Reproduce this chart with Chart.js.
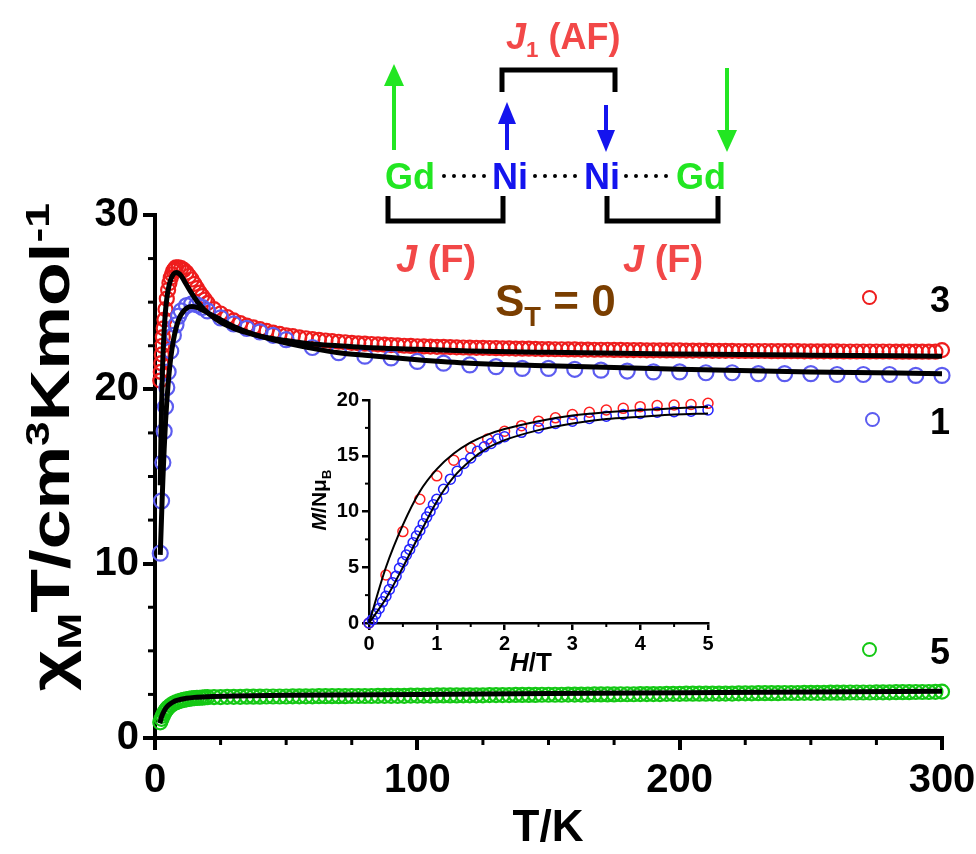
<!DOCTYPE html>
<html>
<head>
<meta charset="utf-8">
<script src="https://cdn.jsdelivr.net/npm/chart.js@4.4.1/dist/chart.umd.min.js"></script>
<style>
  html, body { margin: 0; padding: 0; background: #fff; }
  #wrap { position: relative; width: 976px; height: 854px; overflow: hidden; font-family: 'Liberation Sans', Arial, sans-serif; font-weight: bold; }
  #main { position: absolute; left: 0; top: 0; }
  #inset { position: absolute; left: 300px; top: 385px; }
  .t { position: absolute; white-space: nowrap; line-height: 1; }
  .red { color: #f24848; }
  .grn { color: #22e622; }
  .blu { color: #1414ee; }
  .brn { color: #7a3e00; }
  .leg { position: absolute; width: 11px; height: 11px; border-radius: 50%; border: 2px solid; }
  sub, sup { font-size: 62%; line-height: 0; }
</style>
</head>
<body>
<div id="wrap">
  <canvas id="main" width="976" height="854"></canvas>
  <canvas id="inset" width="420" height="300"></canvas>

  <svg width="976" height="854" style="position:absolute;left:0;top:0;pointer-events:none">
    <path d="M502,92 V70 H615 V92" fill="none" stroke="#000" stroke-width="5"/>
    <path d="M388,196 V221 H503 V196" fill="none" stroke="#000" stroke-width="5"/>
    <path d="M607,196 V221 H718 V196" fill="none" stroke="#000" stroke-width="5"/>
    <line x1="394" y1="150" x2="394" y2="82" stroke="#22e622" stroke-width="4"/>
    <polygon points="384,86 404,86 394,64" fill="#22e622"/>
    <line x1="727" y1="68" x2="727" y2="134" stroke="#22e622" stroke-width="4"/>
    <polygon points="717,130 737,130 727,152" fill="#22e622"/>
    <line x1="507" y1="150" x2="507" y2="120" stroke="#1414ee" stroke-width="4"/>
    <polygon points="498,124 516,124 507,102" fill="#1414ee"/>
    <line x1="606" y1="105" x2="606" y2="134" stroke="#1414ee" stroke-width="4"/>
    <polygon points="597,130 615,130 606,152" fill="#1414ee"/>
    <line x1="444" y1="176" x2="490" y2="176" stroke="#000" stroke-width="4" stroke-dasharray="0 10" stroke-linecap="round"/>
    <line x1="535" y1="176" x2="581" y2="176" stroke="#000" stroke-width="4" stroke-dasharray="0 10" stroke-linecap="round"/>
    <line x1="626" y1="176" x2="672" y2="176" stroke="#000" stroke-width="4" stroke-dasharray="0 10" stroke-linecap="round"/>
  </svg>

  <div class="t red" style="left:506px;top:19px;font-size:36px"><i>J</i><sub>1</sub> (AF)</div>
  <div class="t grn" style="left:385px;top:159px;font-size:36px">Gd</div>
  <div class="t blu" style="left:492px;top:159px;font-size:36px">Ni</div>
  <div class="t blu" style="left:584px;top:159px;font-size:36px">Ni</div>
  <div class="t grn" style="left:676px;top:159px;font-size:36px">Gd</div>
  <div class="t red" style="left:396px;top:240px;font-size:38px"><i>J</i> (F)</div>
  <div class="t red" style="left:623px;top:240px;font-size:38px"><i>J</i> (F)</div>
  <div class="t brn" style="left:495px;top:279px;font-size:44px">S<sub>T</sub> = 0</div>

  <div class="leg" style="left:862px;top:290px;border-color:#ee1c1c"></div>
  <div class="t" style="left:930px;top:282px;font-size:36px">3</div>
  <div class="leg" style="left:865px;top:412px;border-color:#5c5cf0"></div>
  <div class="t" style="left:930px;top:404px;font-size:36px">1</div>
  <div class="leg" style="left:862px;top:642px;border-color:#14c814"></div>
  <div class="t" style="left:930px;top:634px;font-size:36px">5</div>

  <div class="t" style="left:50px;top:447px;font-size:55px;transform:translate(-50%,-50%) rotate(-90deg) scale(1.3,1)">χ<sub>M</sub>T/cm<sup>3</sup>Kmol<sup>-1</sup></div>
  <div class="t" style="left:548px;top:826px;font-size:44px;transform:translate(-50%,-50%)">T/K</div>
  <div class="t" style="left:318px;top:500px;font-size:21px;transform:translate(-50%,-50%) rotate(-90deg)"><i>M</i>/Nμ<sub>B</sub></div>
  <div class="t" style="left:531px;top:662px;font-size:26px;transform:translate(-50%,-50%)"><i>H</i>/T</div>
</div>

<script>
// ---------- main plot data: chi_M T (cm3 K mol-1) vs T (K) ----------
const denseT = [
  20,22.5,25,27.5,30,32.5,35,37.5,40,42.5,
  45,47.5,50,52.5,55,57.5,60,62.5,65,67.5,
  70,72.5,75,77.5,80,82.5,85,87.5,90,92.5,
  95,97.5,100,102.5,105,107.5,110,112.5,115,117.5,
  120,122.5,125,127.5,130,132.5,135,137.5,140,142.5,
  145,147.5,150,152.5,155,157.5,160,162.5,165,167.5,
  170,172.5,175,177.5,180,182.5,185,187.5,190,192.5,
  195,197.5,200,202.5,205,207.5,210,212.5,215,217.5,
  220,222.5,225,227.5,230,232.5,235,237.5,240,242.5,
  245,247.5,250,252.5,255,257.5,260,262.5,265,267.5,
  270,272.5,275,277.5,280,282.5,285,287.5,290,292.5,
  295,297.5,300
];

const redLowT = [2,2.2,2.4,2.6,2.8,3,3.3,3.6,4,4.5,5,5.5,6,6.5,7,7.5,8,9,10,11,12,13,14,15,16,17,18,19];
const redLowChi = [20.5,21.0,21.5,22.0,22.5,23.0,23.5,24.0,24.6,25.2,25.7,26.1,26.4,26.6,26.8,26.9,27.0,27.0,26.95,26.85,26.7,26.5,26.3,26.05,25.8,25.55,25.35,25.15];
const redHighChi = [
  24.95,24.6,24.35,24.15,23.95,23.8,23.65,23.55,23.45,23.35,
  23.25,23.18,23.1,23.05,22.98,22.93,22.88,22.84,22.8,22.76,
  22.73,22.7,22.67,22.64,22.62,22.6,22.58,22.56,22.54,22.52,
  22.5,22.49,22.47,22.46,22.45,22.44,22.43,22.42,22.41,22.4,
  22.39,22.38,22.38,22.37,22.36,22.35,22.35,22.34,22.33,22.33,
  22.32,22.31,22.31,22.3,22.3,22.29,22.29,22.28,22.28,22.27,
  22.27,22.27,22.26,22.26,22.25,22.25,22.25,22.24,22.24,22.24,
  22.23,22.23,22.23,22.22,22.22,22.22,22.22,22.21,22.21,22.21,
  22.21,22.2,22.2,22.2,22.2,22.2,22.19,22.19,22.19,22.19,
  22.19,22.18,22.18,22.18,22.18,22.18,22.18,22.17,22.17,22.17,
  22.17,22.17,22.17,22.17,22.17,22.16,22.16,22.16,22.16,22.16,
  22.16,22.16,22.25
];

const blueT = [2,2.5,3,3.5,4,4.5,5,6,7,8,9,10,12,14,16,18,20,25,30,35,40,45,50,60,70,80,90,100,110,120,130,140,150,160,170,180,190,200,210,220,230,240,250,260,270,280,290,300];
const blueChi = [10.6,13.6,15.8,17.6,19.0,20.1,21.0,22.2,23.1,23.7,24.2,24.5,24.8,24.9,24.85,24.7,24.5,24.1,23.75,23.5,23.3,23.1,22.85,22.4,22.1,21.9,21.8,21.6,21.5,21.4,21.3,21.2,21.2,21.15,21.1,21.05,21.0,21.0,20.95,20.95,20.9,20.9,20.9,20.85,20.85,20.85,20.8,20.8];

const greenLowT = [2,2.5,3,3.5,4,4.5,5,6,7,8,9,10,11,12,13,14,15,16,17,18,19];
const greenLowChi = [0.9,1.1,1.28,1.43,1.56,1.66,1.75,1.88,1.98,2.05,2.1,2.15,2.19,2.22,2.25,2.27,2.29,2.3,2.31,2.32,2.33];
const greenHighChi = [
  2.34,2.35,2.35,2.36,2.36,2.36,2.37,2.37,2.37,2.38,
  2.38,2.38,2.38,2.39,2.39,2.39,2.39,2.40,2.40,2.40,
  2.40,2.40,2.41,2.41,2.41,2.41,2.42,2.42,2.42,2.42,
  2.42,2.43,2.43,2.43,2.43,2.44,2.44,2.44,2.44,2.45,
  2.45,2.45,2.45,2.46,2.46,2.46,2.46,2.47,2.47,2.47,
  2.47,2.48,2.48,2.48,2.48,2.49,2.49,2.49,2.49,2.50,
  2.50,2.50,2.50,2.51,2.51,2.51,2.52,2.52,2.52,2.52,
  2.53,2.53,2.53,2.54,2.54,2.54,2.54,2.55,2.55,2.55,
  2.55,2.56,2.56,2.56,2.57,2.57,2.57,2.57,2.58,2.58,
  2.58,2.59,2.59,2.59,2.59,2.60,2.60,2.60,2.61,2.61,
  2.61,2.61,2.62,2.62,2.62,2.63,2.63,2.63,2.64,2.64,
  2.64,2.65,2.66
];

// fitted curves (black)
const fit3T = [2,2.25,2.5,2.75,3,3.5,4,4.5,5,6,7,8,9,10,12,14,16,18,20,25,30,35,40,50,60,70,80,100,120,150,200,250,300];
const fit3Chi = [14.5,17.0,19.0,20.6,21.8,23.4,24.5,25.2,25.7,26.3,26.6,26.7,26.65,26.5,26.0,25.5,25.05,24.7,24.4,23.85,23.5,23.25,23.05,22.8,22.6,22.5,22.4,22.3,22.2,22.12,22.03,21.96,21.9];
const fit1T = [2,2.25,2.5,2.75,3,3.5,4,4.5,5,6,7,8,9,10,12,14,16,18,20,25,30,35,40,50,60,70,80,100,120,150,200,250,300];
const fit1Chi = [10.5,11.6,12.7,13.8,14.8,16.6,18.1,19.3,20.3,21.8,22.8,23.5,24.0,24.3,24.65,24.75,24.7,24.55,24.4,24.0,23.6,23.3,23.05,22.65,22.35,22.1,21.95,21.7,21.5,21.35,21.15,21.0,20.9];
const fit5T = [1.8,2,2.5,3,3.5,4,5,6,7,8,10,12,15,20,30,50,100,150,200,250,300];
const fit5Chi = [0.85,0.95,1.2,1.4,1.55,1.68,1.86,1.98,2.07,2.14,2.22,2.28,2.33,2.37,2.41,2.45,2.5,2.55,2.6,2.64,2.68];

// ---------- inset data: M/NμB vs H (T) ----------
const insetRedH = [0,0.25,0.5,0.75,1,1.25,1.5,1.75,2,2.25,2.5,2.75,3,3.25,3.5,3.75,4,4.25,4.5,4.75,5];
const insetRedM = [0,4.3,8.2,11.1,13.2,14.6,15.7,16.5,17.2,17.7,18.1,18.4,18.7,18.9,19.1,19.25,19.4,19.5,19.55,19.6,19.7];
const insetBlueH = [0,0.05,0.1,0.15,0.2,0.25,0.3,0.35,0.4,0.45,0.5,0.55,0.6,0.65,0.7,0.75,0.8,0.85,0.9,0.95,1.0,1.1,1.2,1.3,1.4,1.5,1.6,1.7,1.8,1.9,2.0,2.25,2.5,2.75,3,3.25,3.5,3.75,4,4.25,4.5,4.75,5];
const insetBlueM = [0,0.3,0.8,1.3,1.9,2.4,3.0,3.6,4.2,4.9,5.5,6.1,6.6,7.2,7.8,8.3,8.9,9.5,10.0,10.6,11.1,12.0,12.9,13.6,14.3,14.8,15.4,15.8,16.1,16.5,16.7,17.1,17.5,17.9,18.1,18.35,18.55,18.7,18.8,18.9,18.95,19.0,19.1];
const insetFitH = [0,0.25,0.5,0.75,1,1.25,1.5,1.75,2,2.5,3,3.5,4,4.5,5];
const insetFitRedM = [0,5.0,8.8,11.8,13.8,15.2,16.2,16.9,17.4,18.1,18.6,18.9,19.1,19.25,19.4];
const insetFitBlueM = [0,2.2,5.0,8.0,10.9,13.1,14.6,15.7,16.4,17.3,17.9,18.3,18.5,18.7,18.8];

// tick label lists
const mainXTicks = [0,100,200,300];
const mainYTicks = [0,10,20,30];
const insetXTicks = [0,1,2,3,4,5];
const insetYTicks = [0,5,10,15,20];

// ---------- helpers ----------
const pts = (xs, ys) => xs.map((x, i) => ({x, y: ys[i]}));
Chart.defaults.font.family = "'Liberation Sans', Arial, sans-serif";
Chart.defaults.color = '#000';

const minorTicks = {
  id: 'minorTicks',
  afterDraw(chart, args, o) {
    const {ctx} = chart, xs = chart.scales.x, ys = chart.scales.y;
    ctx.save();
    ctx.strokeStyle = '#000';
    ctx.lineWidth = o.width;
    ctx.lineCap = 'butt';
    o.xMinor.forEach(v => { const p = xs.getPixelForValue(v); ctx.beginPath(); ctx.moveTo(p, xs.top); ctx.lineTo(p, xs.top + o.len); ctx.stroke(); });
    o.yMinor.forEach(v => { const p = ys.getPixelForValue(v); ctx.beginPath(); ctx.moveTo(ys.right, p); ctx.lineTo(ys.right - o.len, p); ctx.stroke(); });
    ctx.restore();
  }
};

const fitLine = (data, w) => ({type: 'line', data, borderColor: '#000', borderWidth: w, pointRadius: 0, fill: false, cubicInterpolationMode: 'monotone', clip: false});
const circles = (data, color, r, w) => ({type: 'scatter', data, borderColor: color, backgroundColor: 'rgba(0,0,0,0)', pointRadius: r, borderWidth: w, pointBorderWidth: w, showLine: false, clip: false});

function axis(min, max, ticks, fontSize, tickLen, lineW, fitSize, horizontal, pad) {
  return {
    type: 'linear', min, max,
    afterBuildTicks: s => { s.ticks = ticks.map(v => ({value: v})); },
    afterFit: s => {
      if (horizontal) { s.height = fitSize; s.paddingLeft = 0; s.paddingRight = 0; }
      else { s.width = fitSize; s.paddingTop = 0; s.paddingBottom = 0; }
    },
    ticks: {font: {size: fontSize, weight: 'bold'}, color: '#000', padding: pad, maxRotation: 0, autoSkip: false},
    grid: {display: true, drawOnChartArea: false, drawTicks: true, tickLength: tickLen, lineWidth: lineW, color: '#000'},
    border: {display: true, width: lineW, color: '#000'}
  };
}

new Chart(document.getElementById('main'), {
  data: {
    datasets: [
      fitLine(pts(fit3T, fit3Chi), 5),
      fitLine(pts(fit1T, fit1Chi), 5),
      fitLine(pts(fit5T, fit5Chi), 5),
      circles(pts(blueT, blueChi), '#5c5cf0', 7.5, 2.2),
      circles(pts(redLowT.concat(denseT), redLowChi.concat(redHighChi)), '#ee1c1c', 7, 2.2),
      circles(pts(greenLowT.concat(denseT), greenLowChi.concat(greenHighChi)), '#14c814', 7, 2.2)
    ]
  },
  options: {
    responsive: false, animation: false, events: [],
    layout: {padding: {left: 0, right: 34, top: 215, bottom: 0}},
    plugins: {legend: {display: false}, tooltip: {enabled: false},
      minorTicks: {width: 3, len: 7, xMinor: [25,50,75,125,150,175,225,250,275], yMinor: [2.5,5,7.5,12.5,15,17.5,22.5,25,27.5]}},
    scales: {
      x: axis(0, 300, mainXTicks, 40, 12, 4, 116, true, 7),
      y: axis(0, 30, mainYTicks, 40, 12, 4, 155, false, 4)
    }
  },
  plugins: [minorTicks]
});

new Chart(document.getElementById('inset'), {
  data: {
    datasets: [
      fitLine(pts(insetFitH, insetFitRedM), 2),
      fitLine(pts(insetFitH, insetFitBlueM), 2),
      circles(pts(insetBlueH, insetBlueM), '#2222ff', 5, 1.5),
      circles(pts(insetRedH, insetRedM), '#ff2020', 5, 1.5)
    ]
  },
  options: {
    responsive: false, animation: false, events: [],
    layout: {padding: {left: 0, right: 12, top: 15, bottom: 0}},
    plugins: {legend: {display: false}, tooltip: {enabled: false},
      minorTicks: {width: 2, len: 4, xMinor: [0.5,1.5,2.5,3.5,4.5], yMinor: [2.5,7.5,12.5,17.5]}},
    scales: {
      x: axis(0, 5, insetXTicks, 20, 7, 2.5, 62, true, 2),
      y: axis(0, 20, insetYTicks, 20, 7, 2.5, 69, false, 3)
    }
  },
  plugins: [minorTicks]
});
</script>
</body>
</html>
